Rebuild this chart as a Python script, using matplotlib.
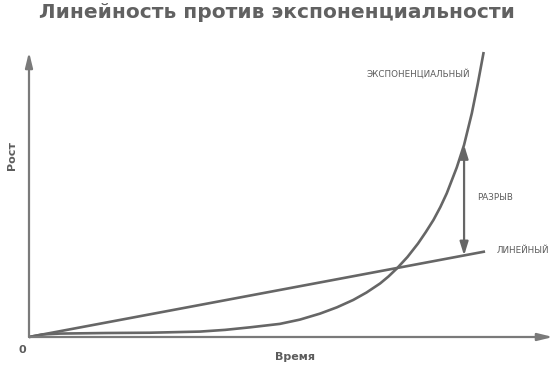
import matplotlib.pyplot as plt

# time axis units: 0..10 where the curves end, growth axis: 0..100
linear_x = [0.0, 10.0]
linear_y = [0.0, 30.0]

exp_x = [0.0, 0.3, 0.68, 1.7, 2.65, 3.75, 4.3, 4.85, 5.50, 5.94, 6.38, 6.75,
         7.11, 7.40, 7.70, 7.88, 8.07, 8.30, 8.53, 8.70, 8.87, 9.02, 9.16,
         9.38, 9.54, 9.71, 9.84, 9.97]
exp_y = [0.0, 0.9, 1.2, 1.4, 1.5, 1.9, 2.5, 3.4, 4.6, 6.1, 8.2, 10.4,
         13.0, 15.6, 18.8, 21.2, 24.1, 28.1, 32.8, 36.8, 41.1, 45.6, 50.4,
         59.5, 67.4, 78.5, 88.8, 100.0]

gap_x = 9.54
gap_top = 67.4
gap_bottom = 28.6

title = "Линейность против экспоненциальности"
label_exp = "ЭКСПОНЕНЦИАЛЬНЫЙ"
label_lin = "ЛИНЕЙНЫЙ"
label_gap = "РАЗРЫВ"

LINE = "#666666"
AXIS = "#7a7a7a"
TEXT = "#5c5c5c"

fig = plt.figure(figsize=(5.55, 3.66), dpi=100)
ax = fig.add_axes([29 / 555, 29 / 366, 524 / 555, 285 / 366])
ax.set_xlim(0, 11.49)
ax.set_ylim(0, 100)
ax.axis("off")

# axes with arrow heads
for end in [(11.49, 0), (0, 100)]:
    ax.annotate("", xy=end, xytext=(0, 0),
                arrowprops=dict(arrowstyle="-|>,head_length=0.9,head_width=0.22",
                                color=AXIS, lw=1.6, shrinkA=0, shrinkB=0),
                annotation_clip=False)

ax.plot(linear_x, linear_y, color=LINE, lw=1.9, solid_capstyle="butt", clip_on=False)
ax.plot(exp_x, exp_y, color=LINE, lw=1.9, solid_capstyle="butt",
        solid_joinstyle="round", clip_on=False)

# gap arrow
ax.annotate("", xy=(gap_x, gap_top), xytext=(gap_x, gap_bottom),
            arrowprops=dict(arrowstyle="<|-|>,head_length=0.8,head_width=0.25",
                            color=LINE, lw=1.6, shrinkA=0, shrinkB=0))

ax.text(8.53, 92.3, label_exp, fontsize=6.3, color=TEXT, ha="center", va="center")
ax.text(10.26, 30.5, label_lin, fontsize=6.3, color=TEXT, ha="left", va="center")
ax.text(10.22, 49.1, label_gap, fontsize=6.3, color=TEXT, ha="center", va="center")

fig.text(22 / 555, 1 - 350 / 366, "0", fontsize=8, fontweight="bold", color=TEXT,
         ha="center", va="center")
fig.text(295 / 555, 1 - 357 / 366, "Время", fontsize=8, fontweight="bold", color=TEXT,
         ha="center", va="center")
fig.text(12 / 555, 1 - 155 / 366, "Рост", fontsize=8, fontweight="bold", color=TEXT,
         ha="center", va="center", rotation=90)

fig.text(277 / 555, 1 - 13 / 366, title, fontsize=14.5, fontweight="heavy", color="#616161",
         ha="center", va="center")

fig.savefig("out.png", dpi=100)
